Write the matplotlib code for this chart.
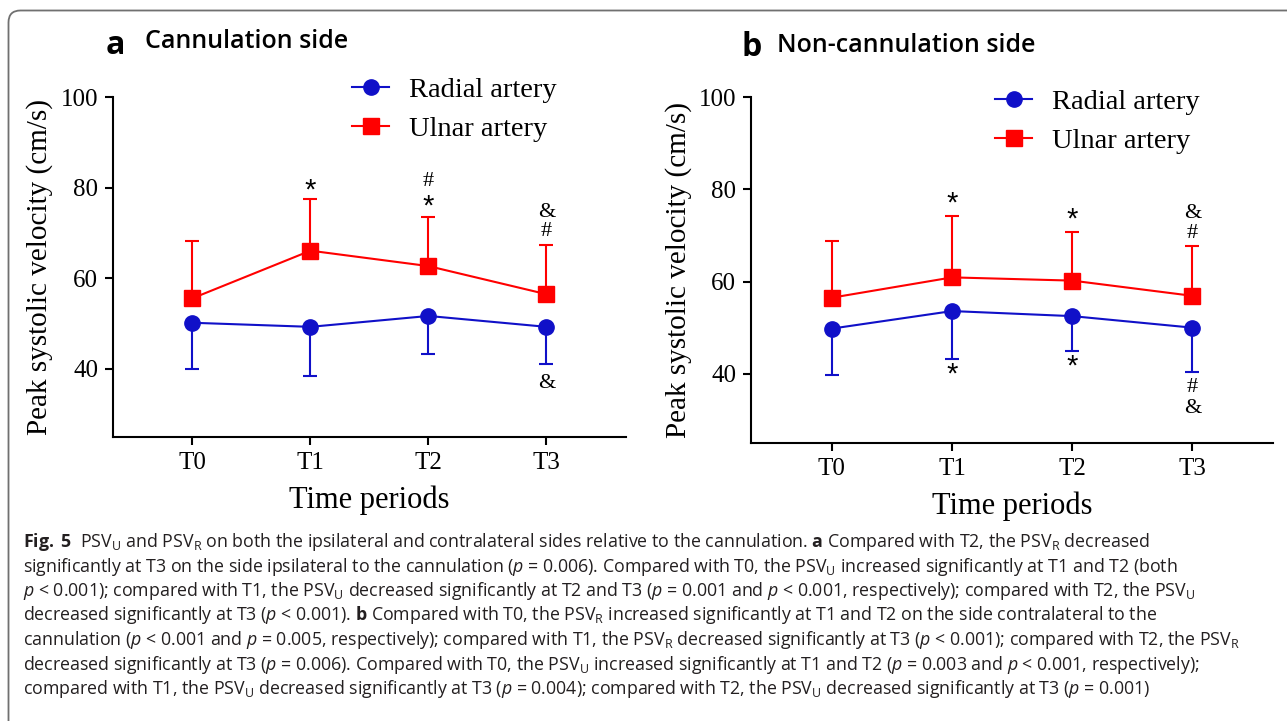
import matplotlib
matplotlib.use("Agg")
import matplotlib.pyplot as plt
from matplotlib.patches import FancyBboxPatch
from matplotlib.transforms import IdentityTransform

# ---------------- data ----------------
periods = ["T0", "T1", "T2", "T3"]

a_radial = [50.2, 49.3, 51.7, 49.3]
a_radial_sd = [10.2, 10.9, 8.5, 8.2]
a_ulnar = [55.6, 66.1, 62.7, 56.5]
a_ulnar_sd = [12.7, 11.3, 10.9, 10.8]

b_radial = [49.8, 53.6, 52.5, 50.0]
b_radial_sd = [10.1, 10.5, 7.6, 9.6]
b_ulnar = [56.5, 60.9, 60.2, 56.9]
b_ulnar_sd = [12.2, 13.4, 10.5, 10.9]

# significance marks: (period index, y value, symbol)
a_marks = [(1, 79.3, "*"), (2, 81.3, "#"), (2, 75.9, "*"), (3, 74.6, "&"), (3, 70.3, "#"), (3, 36.9, "&")]
b_marks = [(1, 76.8, "*"), (2, 73.5, "*"), (3, 74.8, "&"), (3, 70.4, "#"),
           (1, 39.8, "*"), (2, 41.5, "*"), (3, 37.0, "#"), (3, 32.4, "&")]

series_names = ["Radial artery", "Ulnar artery"]
y_ticks = [40, 60, 80, 100]

caption_lines = [
    r"$\mathbf{Fig.}$ $\mathbf{5}$  PSV$_\mathrm{U}$ and PSV$_\mathrm{R}$ on both the ipsilateral and contralateral sides relative to the cannulation. $\mathbf{a}$ Compared with T2, the PSV$_\mathrm{R}$ decreased",
    r"significantly at T3 on the side ipsilateral to the cannulation ($\mathit{p}$ = 0.006). Compared with T0, the PSV$_\mathrm{U}$ increased significantly at T1 and T2 (both",
    r"$\mathit{p}$ < 0.001); compared with T1, the PSV$_\mathrm{U}$ decreased significantly at T2 and T3 ($\mathit{p}$ = 0.001 and $\mathit{p}$ < 0.001, respectively); compared with T2, the PSV$_\mathrm{U}$",
    r"decreased significantly at T3 ($\mathit{p}$ < 0.001). $\mathbf{b}$ Compared with T0, the PSV$_\mathrm{R}$ increased significantly at T1 and T2 on the side contralateral to the",
    r"cannulation ($\mathit{p}$ < 0.001 and $\mathit{p}$ = 0.005, respectively); compared with T1, the PSV$_\mathrm{R}$ decreased significantly at T3 ($\mathit{p}$ < 0.001); compared with T2, the PSV$_\mathrm{R}$",
    r"decreased significantly at T3 ($\mathit{p}$ = 0.006). Compared with T0, the PSV$_\mathrm{U}$ increased significantly at T1 and T2 ($\mathit{p}$ = 0.003 and $\mathit{p}$ < 0.001, respectively);",
    r"compared with T1, the PSV$_\mathrm{U}$ decreased significantly at T3 ($\mathit{p}$ = 0.004); compared with T2, the PSV$_\mathrm{U}$ decreased significantly at T3 ($\mathit{p}$ = 0.001)",
]

# ---------------- style ----------------
W, H = 1287, 721
CAP_FONT = "Open Sans"
plt.rcParams["mathtext.fontset"] = "custom"
plt.rcParams["mathtext.rm"] = CAP_FONT
plt.rcParams["mathtext.it"] = CAP_FONT + ":italic"
plt.rcParams["mathtext.bf"] = CAP_FONT + ":bold"
SERIF = "Liberation Serif"
BLUE = "#1010c8"
RED = "#ff0000"

fig = plt.figure(figsize=(W / 100, H / 100), dpi=100)


def px_axes(left, right, top, bottom):
    return fig.add_axes([left / W, 1 - bottom / H, (right - left) / W, (bottom - top) / H])


def draw_panel(ax, radial, radial_sd, ulnar, ulnar_sd, marks, leg_anchor, ylab_x):
    x = list(range(len(periods)))
    ax.errorbar(x, radial, yerr=[radial_sd, [0] * len(x)], fmt="none", ecolor=BLUE,
                elinewidth=1.5, capsize=5, capthick=1.5, zorder=2)
    ax.errorbar(x, ulnar, yerr=[[0] * len(x), ulnar_sd], fmt="none", ecolor=RED,
                elinewidth=1.5, capsize=5, capthick=1.5, zorder=2)
    ax.plot(x, radial, color=BLUE, marker="o", ms=11, lw=1.5, label=series_names[0], zorder=3)
    ax.plot(x, ulnar, color=RED, marker="s", ms=11, lw=1.5, label=series_names[1], zorder=3)
    for i, yv, s in marks:
        fam = "Liberation Sans" if s == "*" else SERIF
        fs = 21 if s == "*" else 16
        ax.text(i, yv, s, ha="center", va="center", fontsize=fs, family=fam, color="black")
    ax.set_xlim(-0.67, 3.67)
    ax.set_ylim(25, 100)
    ax.set_xticks(x)
    ax.set_xticklabels(periods)
    ax.set_yticks(y_ticks)
    for sp in ["top", "right"]:
        ax.spines[sp].set_visible(False)
    ax.spines["left"].set_bounds(25, 100)
    for sp in ["left", "bottom"]:
        ax.spines[sp].set_linewidth(1.5)
    ax.tick_params(axis="both", length=6, width=1.5, labelsize=18, pad=5)
    for lab in ax.get_xticklabels() + ax.get_yticklabels():
        lab.set_family(SERIF)
    ax.set_xlabel("Time periods", fontsize=22, family=SERIF, labelpad=8)
    ax.set_ylabel("Peak systolic velocity (cm/s)", fontsize=21, family=SERIF)
    ax.yaxis.set_label_coords(ylab_x, 0.5)
    leg = ax.legend(loc="upper left", bbox_to_anchor=leg_anchor, frameon=False,
                    prop={"family": SERIF, "size": 20.5}, handlelength=1.3, handletextpad=0.7,
                    labelspacing=0.45, borderaxespad=0, borderpad=0)
    return leg


ax_a = px_axes(113.4, 625.5, 97, 437)
draw_panel(ax_a, a_radial, a_radial_sd, a_ulnar, a_ulnar_sd, a_marks,
           ((352 - 113.4) / (625.5 - 113.4), (437 - 77) / 340), -0.118)
ax_b = px_axes(751.4, 1273, 97, 443)
draw_panel(ax_b, b_radial, b_radial_sd, b_ulnar, b_ulnar_sd, b_marks,
           ((995 - 751.4) / (1273 - 751.4), (443 - 89) / 346), -0.114)

# panel titles
fig.text(106 / W, 1 - 45 / H, "a", fontsize=23, fontweight="bold", family=CAP_FONT, va="center")
fig.text(145 / W, 1 - 41 / H, "Cannulation side", fontsize=18, fontweight="semibold", family=CAP_FONT, va="center")
fig.text(741 / W, 1 - 47 / H, "b", fontsize=23, fontweight="bold", family=CAP_FONT, va="center")
fig.text(777 / W, 1 - 45 / H, "Non-cannulation side", fontsize=18, fontweight="semibold", family=CAP_FONT, va="center")

# caption
y0 = 542
for k, line in enumerate(caption_lines):
    fig.text(23 / W, 1 - (y0 + k * 24.5) / H, line, fontsize=12.8, family=CAP_FONT, va="center", color="#231f20")

# border
border = FancyBboxPatch((8.5, -30), 1320, H - 10.5 + 30, boxstyle="round,pad=0,rounding_size=12",
                        transform=IdentityTransform(), facecolor="none", edgecolor="#707070", lw=1.3)
fig.patches.append(border)

fig.savefig("out.png", dpi=100)
